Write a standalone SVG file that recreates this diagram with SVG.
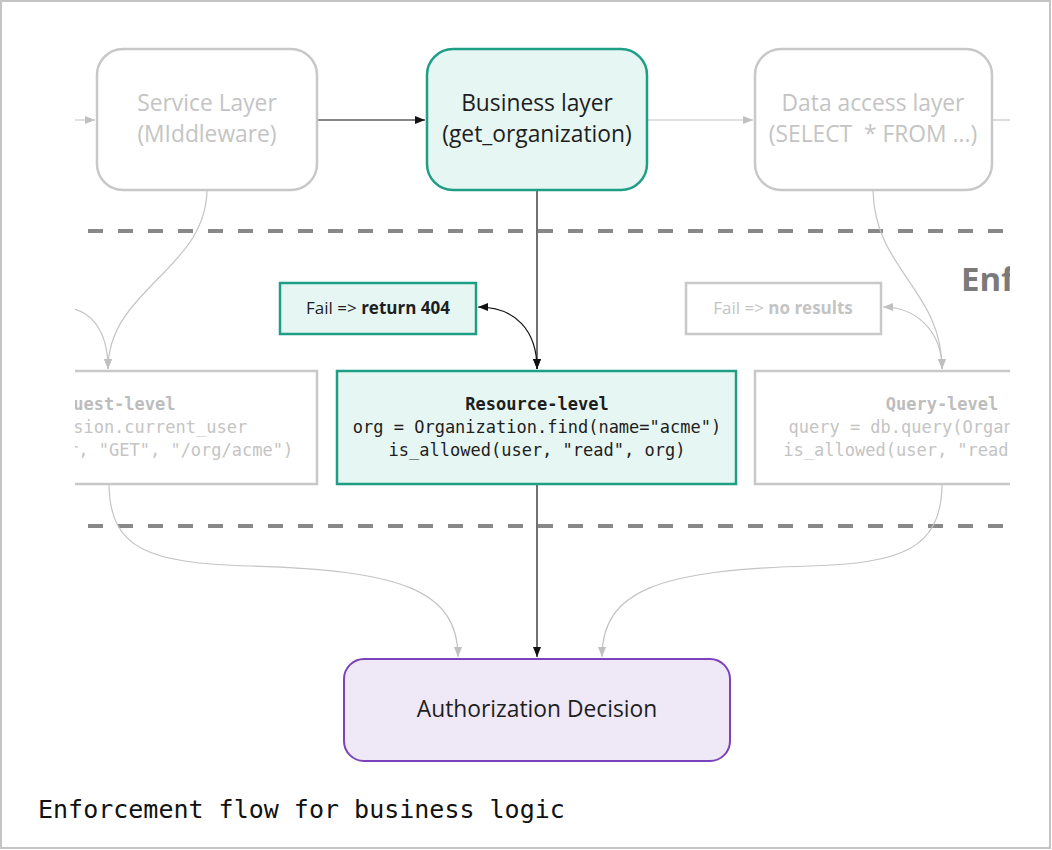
<svg xmlns="http://www.w3.org/2000/svg" width="1052" height="850" viewBox="0 0 1052 850">
<defs>
<style>
.lbl{font-family:"Open Sans","Noto Sans",sans-serif;font-size:22.8px;text-anchor:middle}
.fail{font-family:"Open Sans","Noto Sans",sans-serif;font-size:17px;text-anchor:middle}
.mono{font-family:"DejaVu Sans Mono","Liberation Mono",monospace;font-size:17px;text-anchor:middle}
.dim{fill:#c4c4c4}
.dark{fill:#1e1e1e}
.gbox{fill:#ffffff;stroke:#c8c8c8;stroke-width:2.5}
.tbox{fill:#e6f6f2;stroke:#1f9e86;stroke-width:2.5}
.gline{fill:none;stroke:#c4c4c4;stroke-width:1.2}
.bline{fill:none;stroke:#111;stroke-width:1.2}
.dash{stroke:#888;stroke-width:4;stroke-dasharray:15 15}
</style>
<marker id="ab" viewBox="0 0 10 8" refX="10" refY="4" markerWidth="10" markerHeight="8" markerUnits="userSpaceOnUse" orient="auto-start-reverse"><path d="M0,0 L10,4 L0,8 z" fill="#111"/></marker>
<marker id="ag" viewBox="0 0 10 8" refX="10" refY="4" markerWidth="10" markerHeight="8" markerUnits="userSpaceOnUse" orient="auto-start-reverse"><path d="M0,0 L10,4 L0,8 z" fill="#c0c0c0"/></marker>
<clipPath id="cl"><rect x="75" y="0" width="935" height="850"/></clipPath>
</defs>
<rect x="1" y="1" width="1049" height="847" fill="#ffffff" stroke="#c4c4c4" stroke-width="2"/>
<g clip-path="url(#cl)">
<g id="separators">
<line class="dash" x1="88" y1="231" x2="1012" y2="231"/>
<line class="dash" x1="88" y1="526" x2="1012" y2="526"/>
</g>
<g id="connectors">
<line class="gline" x1="60" y1="120" x2="95" y2="120" marker-end="url(#ag)"/>
<line class="bline" x1="318" y1="120" x2="425" y2="120" marker-end="url(#ab)"/>
<line class="gline" x1="648" y1="120" x2="753" y2="120" marker-end="url(#ag)"/>
<line class="gline" x1="993" y1="120" x2="1020" y2="120"/>
<line class="bline" x1="537" y1="191" x2="537" y2="369" marker-end="url(#ab)"/>
<path class="bline" d="M478,307 C515,307 537,330 537,369" marker-start="url(#ab)" marker-end="url(#ab)"/>
<path class="gline" d="M207,191 C205,270 108,290 108,369" marker-end="url(#ag)"/>
<path class="gline" d="M60,308 C90,306 108,330 108,369" marker-end="url(#ag)"/>
<path class="gline" d="M873,191 C875,270 942,290 942,369" marker-end="url(#ag)"/>
<path class="gline" d="M883,307 C915,307 942,330 942,369" marker-start="url(#ag)" marker-end="url(#ag)"/>
<path class="gline" d="M109,485 C110,550 150,563 250,566 C400,570 458,590 458,657" marker-end="url(#ag)"/>
<path class="gline" d="M942,485 C941,550 900,563 810,566 C660,570 602,590 602,657" marker-end="url(#ag)"/>
<line class="bline" x1="537" y1="485" x2="537" y2="657" marker-end="url(#ab)"/>
</g>
<g id="service-layer">
<rect class="gbox" x="97" y="49" width="220" height="141" rx="26"/>
<text class="lbl dim" x="207" y="111">Service Layer</text>
<text class="lbl dim" x="207" y="142">(MIddleware)</text>
</g>
<g id="business-layer">
<rect class="tbox" x="427" y="49" width="220" height="141" rx="26"/>
<text class="lbl dark" x="537" y="111">Business layer</text>
<text class="lbl dark" x="537" y="142">(get_organization)</text>
</g>
<g id="data-access-layer">
<rect class="gbox" x="755" y="49" width="237" height="141" rx="26"/>
<text class="lbl dim" x="873" y="111">Data access layer</text>
<text class="lbl dim" x="873" y="142">(SELECT &#160;* FROM ...)</text>
</g>
<g id="fail-404">
<rect class="tbox" x="280" y="283" width="196" height="51"/>
<text class="fail dark" x="378" y="314">Fail =&gt; <tspan font-weight="bold">return 404</tspan></text>
</g>
<g id="fail-no-results">
<rect class="gbox" x="686" y="283" width="195" height="51"/>
<text class="fail dim" x="783" y="314">Fail =&gt; <tspan font-weight="bold">no results</tspan></text>
</g>
<g id="enforcement-title">
<text x="961" y="291" font-family="'Open Sans','Noto Sans',sans-serif" font-size="33" font-weight="bold" fill="#7a7a7a">Enforcement</text>
</g>
<g id="request-level">
<rect class="gbox" x="-99" y="371" width="416" height="113"/>
<text class="mono" x="109" y="410" font-weight="bold" fill="#bdbdbd">Request-level</text>
<text class="mono dim" x="109" y="433">user = session.current_user</text>
<text class="mono dim" x="109" y="456">is_allowed(user, "GET", "/org/acme")</text>
</g>
<g id="resource-level">
<rect class="tbox" x="337" y="371" width="399" height="113"/>
<text class="mono dark" x="537" y="410" font-weight="bold">Resource-level</text>
<text class="mono dark" x="537" y="433">org = Organization.find(name="acme")</text>
<text class="mono dark" x="537" y="456">is_allowed(user, "read", org)</text>
</g>
<g id="query-level">
<rect class="gbox" x="755" y="371" width="374" height="113"/>
<text class="mono" x="942" y="410" font-weight="bold" fill="#bdbdbd">Query-level</text>
<text class="mono dim" x="942" y="433">query = db.query(Organization)</text>
<text class="mono dim" x="942" y="456">is_allowed(user, "read", query)</text>
</g>
<g id="authorization-decision">
<rect x="344" y="659" width="386" height="102" rx="20" fill="#efe8f7" stroke="#7b42b9" stroke-width="2"/>
<text class="lbl dark" x="537" y="717">Authorization Decision</text>
</g>
</g>
<text x="38" y="818" font-family="'DejaVu Sans Mono','Liberation Mono',monospace" font-size="25" fill="#111">Enforcement flow for business logic</text>
</svg>
